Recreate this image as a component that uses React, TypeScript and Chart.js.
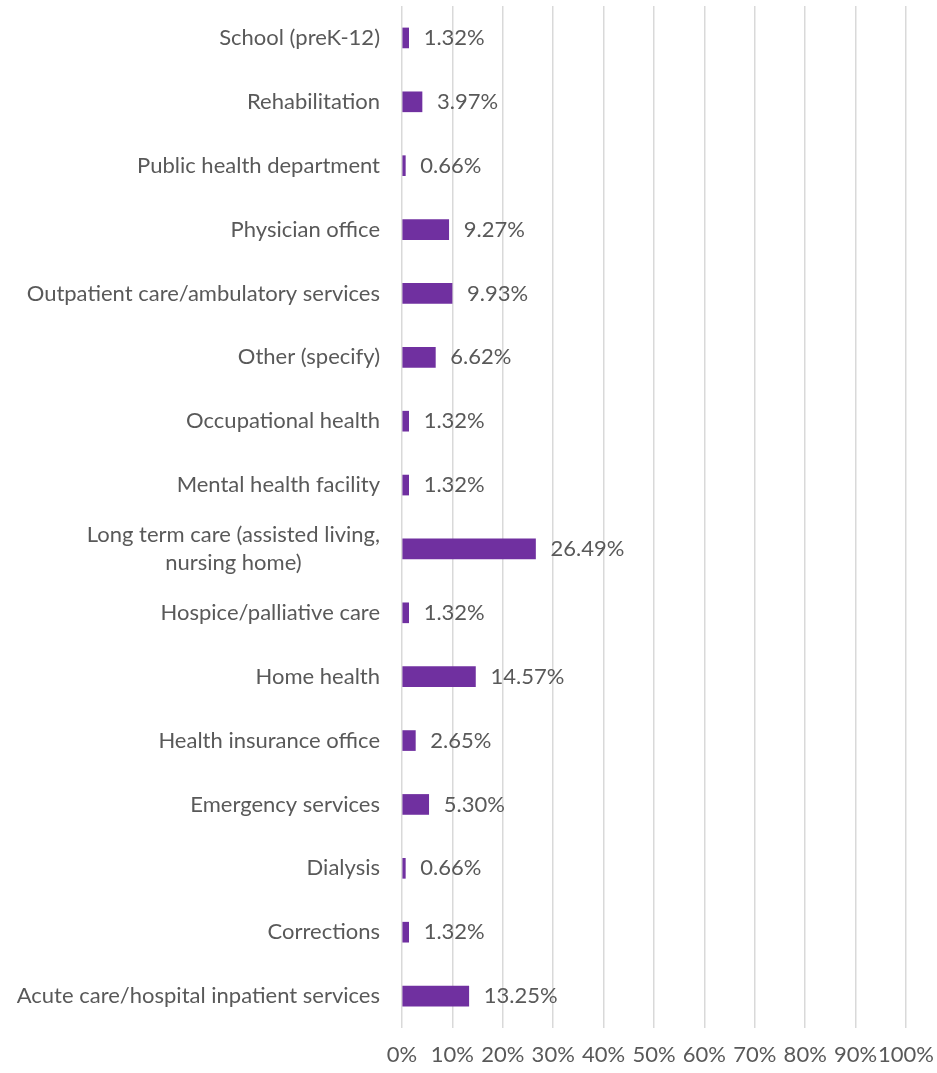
import React, { useEffect, useRef } from "react";
import { Chart, registerables } from "chart.js";

Chart.register(...registerables);

const categories: (string | string[])[] = [
  "School (preK-12)",
  "Rehabilitation",
  "Public health department",
  "Physician office",
  "Outpatient care/ambulatory services",
  "Other (specify)",
  "Occupational health",
  "Mental health facility",
  ["Long term care (assisted living,", "nursing home)"],
  "Hospice/palliative care",
  "Home health",
  "Health insurance office",
  "Emergency services",
  "Dialysis",
  "Corrections",
  "Acute care/hospital inpatient services",
];

const values: number[] = [
  1.32, 3.97, 0.66, 9.27, 9.93, 6.62, 1.32, 1.32, 26.49, 1.32, 14.57, 2.65, 5.3, 0.66, 1.32, 13.25,
];

const xTicks: number[] = [0, 10, 20, 30, 40, 50, 60, 70, 80, 90, 100];

const FONT = "Lato";
const FS = 22;
const TEXT = "#595959";

export default function App() {
  const ref = useRef<HTMLCanvasElement | null>(null);

  useEffect(() => {
    if (!ref.current) return;
    const labelPlugin = {
      id: "customLabels",
      afterDatasetsDraw(chart: any) {
        const ctx = chart.ctx;
        const y = chart.scales.y;
        const x = chart.scales.x;
        ctx.save();
        ctx.fillStyle = TEXT;
        ctx.font = `${FS}px ${FONT}`;
        ctx.textBaseline = "middle";
        const meta = chart.getDatasetMeta(0);
        meta.data.forEach((bar: any, i: number) => {
          ctx.textAlign = "left";
          ctx.fillText(values[i].toFixed(2) + "%", bar.x + 15, bar.y);
        });
        const right = x.left - 22;
        categories.forEach((c, i) => {
          const cy = y.getPixelForValue(i);
          const lines = Array.isArray(c) ? c : [c];
          const widths = lines.map((l) => ctx.measureText(l).width);
          const maxW = Math.max(...widths);
          const center = right - maxW / 2;
          const lh = 28;
          lines.forEach((l, j) => {
            const ly = cy + (j - (lines.length - 1) / 2) * lh;
            ctx.textAlign = "center";
            ctx.fillText(l, center, ly);
          });
        });
        ctx.restore();
      },
    };

    const chart = new Chart(ref.current, {
      type: "bar",
      data: {
        labels: categories.map((c) => (Array.isArray(c) ? c.join(" ") : c)),
        datasets: [
          {
            data: values,
            backgroundColor: "#7030A0",
            borderWidth: 0,
            barThickness: 20,
          },
        ],
      },
      options: {
        indexAxis: "y",
        animation: false,
        responsive: false,
        maintainAspectRatio: false,
        layout: { padding: { top: 6, right: 31, left: 0, bottom: 0 } },
        plugins: {
          legend: { display: false },
          tooltip: { enabled: false },
        },
        scales: {
          x: {
            min: 0,
            max: 100,
            afterBuildTicks: (scale: any) => {
              scale.ticks = xTicks.map((v) => ({ value: v }));
            },
            afterFit: (scale: any) => {
              scale.height = 45;
              scale.paddingRight = 0;
              scale.paddingLeft = 0;
            },
            ticks: {
              color: TEXT,
              font: { family: FONT, size: FS },
              padding: 14,
              maxRotation: 0,
              autoSkip: false,
              callback: (v: any) => v + "%",
            },
            grid: {
              color: "#d9d9d9",
              lineWidth: 1.5,
              drawTicks: false,
            },
            border: { display: false },
          },
          y: {
            ticks: { display: false },
            grid: { display: false },
            border: { display: false },
            afterFit: (scale: any) => {
              scale.width = 402;
            },
          },
        },
      },
      plugins: [labelPlugin],
    });
    return () => chart.destroy();
  }, []);

  return (
    <div style={{ position: "fixed", left: 0, top: 0, width: 937, height: 1073, background: "#fff" }}>
      <canvas ref={ref} width={937} height={1073} />
    </div>
  );
}
